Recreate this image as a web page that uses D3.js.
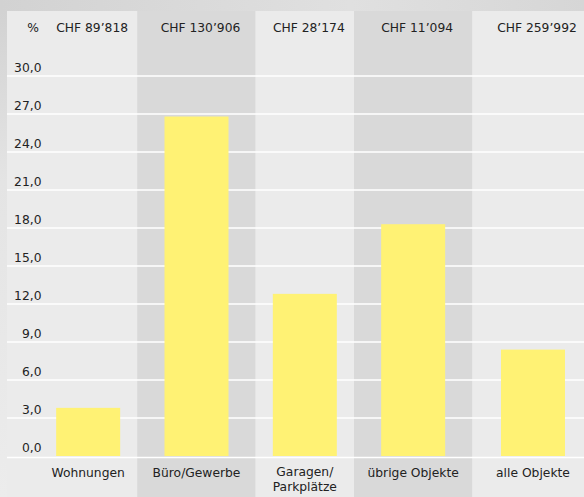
<!DOCTYPE html>
<html>
<head>
<meta charset="utf-8">
<script src="https://cdn.jsdelivr.net/npm/d3@7"></script>
<style>
  html, body { margin: 0; padding: 0; background: #d6d6d6; }
  svg { display: block; }
  text { font-family: "DejaVu Sans", sans-serif; fill: #222; }
</style>
</head>
<body>
<script>
// ---- data ----
const categories = ["Wohnungen", "Büro/Gewerbe", "Garagen/\nParkplätze", "übrige Objekte", "alle Objekte"];
const values = [3.8, 26.8, 12.8, 18.3, 8.4];
const amounts = ["CHF 89’818", "CHF 130’906", "CHF 28’174", "CHF 11’094", "CHF 259’992"];
const yTicks = [0, 3, 6, 9, 12, 15, 18, 21, 24, 27, 30];
const unitLabel = "%";

// ---- layout ----
const W = 584, H = 497;
const panelTop = 11, panelLeft = 7;
const plotBottom = 456, plotTop = 76;
const fs = 12.3;
const svg = d3.select("body").append("svg").attr("width", W).attr("height", H);

const defs = svg.append("defs");
const g1 = defs.append("linearGradient").attr("id", "bgTop").attr("x1", 0).attr("x2", 1);
g1.append("stop").attr("offset", "0%").attr("stop-color", "#d2d2d2");
g1.append("stop").attr("offset", "60%").attr("stop-color", "#e0e0e0");
g1.append("stop").attr("offset", "100%").attr("stop-color", "#d6d6d6");
const g2 = defs.append("linearGradient").attr("id", "bgLeft").attr("x1", 0).attr("x2", 0).attr("y1", 0).attr("y2", 1);
g2.append("stop").attr("offset", "0%").attr("stop-color", "#d2d2d2");
g2.append("stop").attr("offset", "35%").attr("stop-color", "#e4e4e4");
g2.append("stop").attr("offset", "100%").attr("stop-color", "#ececec");

svg.append("rect").attr("x", 0).attr("y", 0).attr("width", W).attr("height", panelTop).attr("fill", "url(#bgTop)");
svg.append("rect").attr("x", 0).attr("y", panelTop).attr("width", panelLeft).attr("height", H - panelTop).attr("fill", "url(#bgLeft)");

const y = d3.scaleLinear().domain([0, 30]).range([plotBottom, plotTop]);

// category positions: band scale, with the total column set apart
const xb = d3.scaleBand().domain(categories).range([34, 34 + 5 * 108.33]).padding(0);
const totalGap = 11.5;
const cx = (c, i) => xb(c) + xb.bandwidth() / 2 + (i === categories.length - 1 ? totalGap : 0);
const barW = 64;

// background columns
const colW = [null, 118, 99, 118, null];
const centers = categories.map((c, i) => cx(c, i));
const edges = [];
for (let i = 0; i < categories.length; i++) {
  let l, r;
  if (i === 0) { l = panelLeft; r = centers[1] - colW[1] / 2; }
  else if (i === categories.length - 1) { l = centers[3] + colW[3] / 2; r = W; }
  else { l = centers[i] - colW[i] / 2; r = centers[i] + colW[i] / 2; }
  edges.push([l, r]);
}
svg.append("g").selectAll("rect").data(edges).join("rect")
  .attr("x", d => d[0]).attr("y", panelTop)
  .attr("width", d => d[1] - d[0]).attr("height", H - panelTop)
  .attr("fill", (d, i) => i % 2 === 0 ? "#ebebeb" : "#d9d9d9");

// gridlines
svg.append("g").selectAll("line").data(yTicks.filter(t => t > 0)).join("line")
  .attr("x1", panelLeft).attr("x2", W)
  .attr("y1", d => y(d)).attr("y2", d => y(d))
  .attr("stroke", "#ffffff").attr("stroke-width", 1.6);
svg.append("line").attr("x1", panelLeft).attr("x2", W)
  .attr("y1", y(0) + 1.5).attr("y2", y(0) + 1.5)
  .attr("stroke", "#ffffff").attr("stroke-width", 1.6);

// bars
svg.append("g").selectAll("rect").data(values).join("rect")
  .attr("x", (d, i) => cx(categories[i], i) - barW / 2)
  .attr("y", d => y(d))
  .attr("width", barW)
  .attr("height", d => y(0) - y(d))
  .attr("fill", "#fff274");

// y labels
const loc = d3.formatLocale({ decimal: ",", thousands: "’", grouping: [3], currency: ["", ""] });
const fmt = loc.format(".1f");
svg.append("g").selectAll("text").data(yTicks).join("text")
  .attr("x", 41.5).attr("y", d => y(d) - 4)
  .attr("text-anchor", "end").attr("font-size", fs)
  .text(d => fmt(d));

// header
svg.append("text").attr("x", 33).attr("y", 32).attr("text-anchor", "middle")
  .attr("font-size", fs).text(unitLabel);
svg.append("g").selectAll("text").data(amounts).join("text")
  .attr("x", (d, i) => cx(categories[i], i) + 4).attr("y", 32)
  .attr("text-anchor", "middle").attr("font-size", fs)
  .text(d => d);

// category labels
const lab = svg.append("g").selectAll("text").data(categories).join("text")
  .attr("text-anchor", "middle").attr("font-size", fs)
  .attr("transform", (d, i) => `translate(${cx(d, i)},0)`);
lab.each(function(d) {
  const lines = d.split("\n");
  const t = d3.select(this);
  lines.forEach((ln, k) => {
    t.append("tspan").attr("x", 0)
      .attr("y", lines.length > 1 ? 476 + k * 15 : 477)
      .text(ln);
  });
});
</script>
</body>
</html>
